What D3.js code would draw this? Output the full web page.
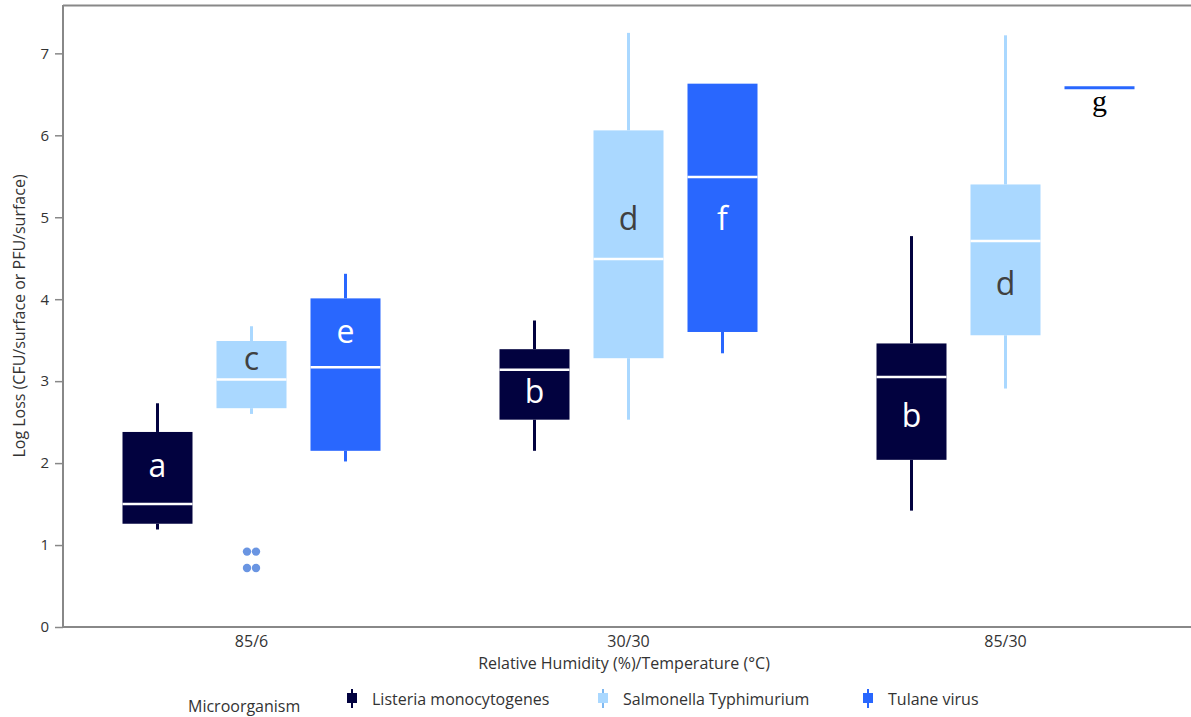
<!DOCTYPE html>
<html>
<head>
<meta charset="utf-8">
<script src="https://cdn.jsdelivr.net/npm/d3@7"></script>
<style>
  html, body { margin: 0; padding: 0; background: #fff; overflow: hidden; }
  svg { display: block; }
  text { font-family: "Open Sans", "Noto Sans", sans-serif; }
</style>
</head>
<body>
<svg id="chart" width="1191" height="717"></svg>
<script>
// Conditions on the x axis (RH % / temperature °C)
const conditions = ["85/6", "30/30", "85/30"];
// Microorganisms (one box per condition)
const organisms = ["Listeria monocytogenes", "Salmonella Typhimurium", "Tulane virus"];
const colors = ["#02023f", "#aad8ff", "#2967fe"];
const letterColors = ["#ffffff", "#404040", "#ffffff"];

// Box statistics per organism, ordered by condition: [min, q1, median, q3, max]
const listeriaStats = [
  [1.19, 1.26, 1.50, 2.38, 2.73],
  [2.15, 2.53, 3.14, 3.39, 3.74],
  [1.42, 2.04, 3.05, 3.46, 4.77]
];
const salmonellaStats = [
  [2.60, 2.67, 3.02, 3.49, 3.67],
  [2.53, 3.28, 4.49, 6.06, 7.25],
  [2.91, 3.56, 4.71, 5.40, 7.22]
];
const tulaneStats = [
  [2.02, 2.15, 3.17, 4.01, 4.31],
  [3.34, 3.60, 5.49, 6.63, 6.63],
  [6.58, 6.58, 6.58, 6.58, 6.58]
];
// Outliers: [condition index, organism index, value]
const outliers = [
  [0, 1, 0.92], [0, 1, 0.92], [0, 1, 0.72], [0, 1, 0.72]
];
// Significance letters per organism and condition, with the value at the text baseline
const listeriaLetters = [["a", 1.83], ["b", 2.73], ["b", 2.44]];
const salmonellaLetters = [["c", 3.13], ["d", 4.84], ["d", 4.05]];
const tulaneLetters = [["e", 3.46], ["f", 4.84], ["g", 6.30]];

const yTicks = [0, 1, 2, 3, 4, 5, 6, 7];

const statsByOrganism = [listeriaStats, salmonellaStats, tulaneStats];
const lettersByOrganism = [listeriaLetters, salmonellaLetters, tulaneLetters];

const svg = d3.select("#chart");
const margin = { left: 63, top: 5, right: -3 };
const W = 1191, H = 717;
const plotRight = W - margin.right;
const plotBottom = 627;
const labelSize = "16px";

const x = d3.scaleBand().domain(conditions).range([margin.left, plotRight]);
const y = d3.scaleLinear().domain([0, 7.59]).range([plotBottom, margin.top]);

const boxW = 70;
const subStep = 94;
const subCenter = (ci, oi) => x(conditions[ci]) + x.bandwidth() / 2 + (oi - 1) * subStep;

// Frame: top line and axes
const axisColor = "#888888";
svg.append("line")
  .attr("x1", margin.left).attr("x2", W).attr("y1", margin.top + 0.5).attr("y2", margin.top + 0.5)
  .attr("stroke", axisColor).attr("stroke-width", 2);

const yAxis = svg.append("g")
  .attr("transform", `translate(${margin.left},0)`)
  .call(d3.axisLeft(y).tickValues(yTicks).tickSize(8).tickPadding(6).tickFormat(d3.format("d")));
yAxis.select(".domain").remove();
yAxis.selectAll(".tick line").attr("stroke", axisColor).attr("stroke-width", 1.5);
yAxis.selectAll(".tick text").attr("fill", "#333").style("font-size", "15px")
  .style("font-family", "'Open Sans', sans-serif");
svg.append("line")
  .attr("x1", margin.left).attr("x2", margin.left).attr("y1", margin.top).attr("y2", plotBottom + 1)
  .attr("stroke", axisColor).attr("stroke-width", 2);

const xAxis = svg.append("g")
  .attr("transform", `translate(0,${plotBottom})`)
  .call(d3.axisBottom(x).tickSize(0).tickPadding(9));
xAxis.select(".domain").remove();
xAxis.selectAll(".tick text").attr("fill", "#333").style("font-size", labelSize)
  .style("font-family", "'Open Sans', sans-serif");
svg.append("line")
  .attr("x1", margin.left).attr("x2", W).attr("y1", plotBottom).attr("y2", plotBottom)
  .attr("stroke", axisColor).attr("stroke-width", 2);

// Axis titles
svg.append("text")
  .attr("transform", `translate(25,${(margin.top + plotBottom) / 2}) rotate(-90)`)
  .attr("text-anchor", "middle").attr("fill", "#333").style("font-size", labelSize)
  .text("Log Loss (CFU/surface or PFU/surface)");
svg.append("text")
  .attr("x", 624).attr("y", 669)
  .attr("text-anchor", "middle").attr("fill", "#333").style("font-size", labelSize)
  .text("Relative Humidity (%)/Temperature (°C)");

// Box plots
const boxes = svg.append("g");
statsByOrganism.forEach((stats, oi) => {
  stats.forEach((s, ci) => {
    const cx = subCenter(ci, oi);
    const [mn, q1, md, q3, mx] = s;
    const g = boxes.append("g");
    if (q1 === q3) {
      g.append("line")
        .attr("x1", cx - boxW / 2).attr("x2", cx + boxW / 2)
        .attr("y1", y(md)).attr("y2", y(md))
        .attr("stroke", colors[oi]).attr("stroke-width", 3);
      return;
    }
    // whiskers
    g.append("line").attr("x1", cx).attr("x2", cx).attr("y1", y(mx)).attr("y2", y(q3))
      .attr("stroke", colors[oi]).attr("stroke-width", 3);
    g.append("line").attr("x1", cx).attr("x2", cx).attr("y1", y(q1)).attr("y2", y(mn))
      .attr("stroke", colors[oi]).attr("stroke-width", 3);
    // box
    g.append("rect")
      .attr("x", cx - boxW / 2).attr("width", boxW)
      .attr("y", y(q3)).attr("height", y(q1) - y(q3))
      .attr("fill", colors[oi]);
    // median
    g.append("line")
      .attr("x1", cx - boxW / 2).attr("x2", cx + boxW / 2)
      .attr("y1", y(md)).attr("y2", y(md))
      .attr("stroke", "#ffffff").attr("stroke-width", 2.5);
  });
});

// Outlier points, dodged side by side
const seen = {};
outliers.forEach(([ci, oi, v]) => {
  const key = ci + "-" + oi + "-" + v;
  const k = seen[key] = (seen[key] || 0) + 1;
  const cx = subCenter(ci, oi) + (k === 1 ? -4.5 : 4.5);
  svg.append("circle").attr("cx", cx).attr("cy", y(v)).attr("r", 4.2).attr("fill", "#6a95e2");
});

// Significance letters
lettersByOrganism.forEach((letters, oi) => {
  letters.forEach(([txt, v], ci) => {
    const cx = subCenter(ci, oi);
    const onFlat = statsByOrganism[oi][ci][1] === statsByOrganism[oi][ci][3];
    svg.append("text")
      .attr("x", cx).attr("y", y(v))
      .attr("text-anchor", "middle")
      .attr("fill", onFlat ? "#000" : letterColors[oi])
      .style("font-size", onFlat ? "30px" : "32px")
      .style("font-family", onFlat ? "'Liberation Serif', 'DejaVu Serif', serif" : "'Open Sans', sans-serif")
      .text(txt);
  });
});

// Legend
const legendY = 699;
svg.append("text").attr("x", 188).attr("y", legendY + 13)
  .attr("fill", "#333").style("font-size", labelSize).text("Microorganism");
const legendX = [352, 603, 868];
organisms.forEach((name, oi) => {
  const lx = legendX[oi];
  const g = svg.append("g").attr("transform", `translate(${lx},${legendY})`);
  g.append("line").attr("x1", 0).attr("x2", 0).attr("y1", -10).attr("y2", 9)
    .attr("stroke", oi === 1 ? "#7fb8f0" : colors[oi]).attr("stroke-width", 2);
  g.append("rect").attr("x", -5).attr("y", -6).attr("width", 10).attr("height", 10).attr("fill", colors[oi]);
  g.append("text").attr("x", 20).attr("y", 6).attr("fill", "#333").style("font-size", labelSize).text(name);
});
</script>
</body>
</html>
